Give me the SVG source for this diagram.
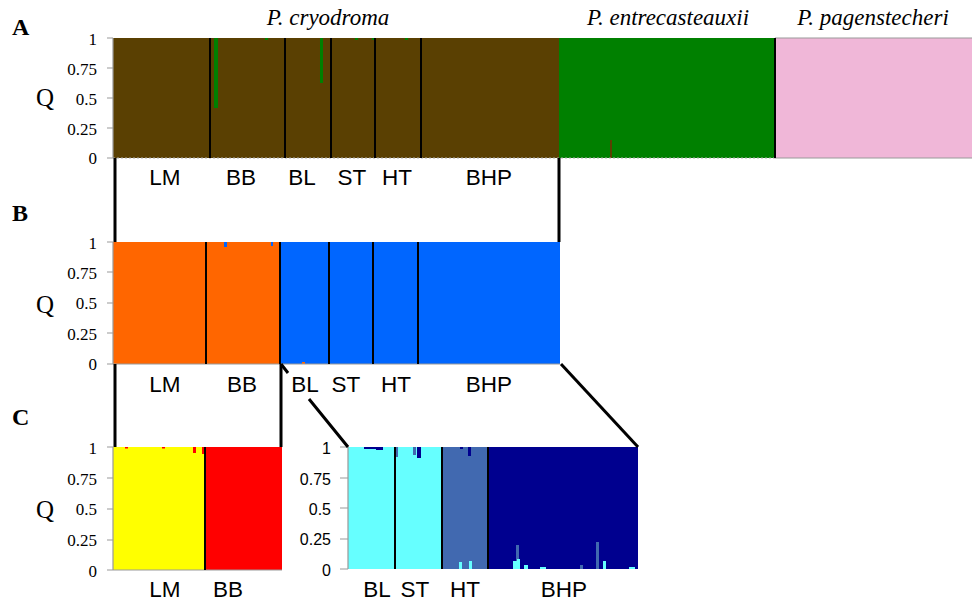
<svg xmlns="http://www.w3.org/2000/svg" width="972" height="602" viewBox="0 0 972 602">
<style>
.tk{font-family:"Liberation Serif",serif;font-size:17px;fill:#000;text-anchor:end}
.tks{font-family:"Liberation Sans",sans-serif;font-size:16px;fill:#000;text-anchor:end}
.q{font-family:"Liberation Serif",serif;font-size:25px;fill:#000;text-anchor:middle}
.pl{font-family:"Liberation Serif",serif;font-size:24px;font-weight:bold;fill:#000}
.sp{font-family:"Liberation Serif",serif;font-size:23px;font-style:italic;fill:#000;text-anchor:middle}
.lb{font-family:"Liberation Sans",sans-serif;font-size:22.5px;fill:#000;text-anchor:middle}
.ax{stroke:#999;stroke-width:1.2;fill:none}
.dv{stroke:#000;stroke-width:2;fill:none}
.cn{stroke:#000;stroke-width:3;fill:none}
</style>
<rect width="972" height="602" fill="#fff"/>

<g id="panelA">
<text class="pl" x="12" y="35">A</text>
<text class="sp" x="328" y="25">P. cryodroma</text>
<text class="sp" x="668" y="25">P. entrecasteauxii</text>
<text class="sp" x="873" y="25">P. pagenstecheri</text>
<rect x="113" y="38" width="446" height="120" fill="#5A4002"/>
<rect x="559" y="38" width="216" height="120" fill="#008000"/>
<rect x="775" y="38" width="197" height="120" fill="#F0B7D8"/>
<rect x="214" y="38" width="4" height="70" fill="#008000"/>
<rect x="320" y="38" width="3" height="45" fill="#008000"/>
<rect x="265" y="38" width="3" height="2" fill="#008000"/>
<rect x="355" y="38" width="3" height="2" fill="#008000"/>
<rect x="372" y="38" width="3" height="2" fill="#008000"/>
<rect x="405" y="38" width="3" height="2" fill="#008000"/>
<rect x="610" y="140" width="2" height="18" fill="#5A4002"/>
<line class="ax" x1="775" y1="38" x2="972" y2="38"/>
<line class="ax" x1="775" y1="158" x2="972" y2="158"/>
<line x1="113" y1="158" x2="775" y2="158" stroke="#aaa" stroke-width="1" stroke-dasharray="2,2"/>
<path class="ax" d="M113 38V158M107 38H113M107 68H113M107 98H113M107 128H113M107 158H113"/>
<path class="dv" d="M210 38V158M285 38V158M331 38V158M375 38V158M421 38V158M775 38V158"/>
<text class="tk" x="97" y="45">1</text>
<text class="tk" x="97" y="75">0.75</text>
<text class="tk" x="97" y="105">0.5</text>
<text class="tk" x="97" y="135">0.25</text>
<text class="tk" x="97" y="164">0</text>
<text class="q" x="45" y="106">Q</text>
<text class="lb" x="165" y="185">LM</text>
<text class="lb" x="241" y="185">BB</text>
<text class="lb" x="302" y="185">BL</text>
<text class="lb" x="352" y="185">ST</text>
<text class="lb" x="397" y="185">HT</text>
<text class="lb" x="489" y="185">BHP</text>
</g>

<g id="panelB">
<text class="pl" x="12" y="221">B</text>
<rect x="113" y="242" width="167" height="122" fill="#FF6600"/>
<rect x="280" y="242" width="280" height="122" fill="#0066FF"/>
<rect x="224" y="242" width="3" height="5" fill="#0066FF"/>
<rect x="271" y="242" width="2" height="4" fill="#0066FF"/>
<rect x="302" y="362" width="3" height="2" fill="#FF6600"/>
<path class="ax" d="M113 242V364M107 242H113M107 272H113M107 303H113M107 333H113M107 364H113M113 364H560"/>
<path class="dv" d="M206 242V364M280 242V364M329 242V364M373 242V364M418 242V364"/>
<text class="tk" x="97" y="249">1</text>
<text class="tk" x="97" y="279">0.75</text>
<text class="tk" x="97" y="309">0.5</text>
<text class="tk" x="97" y="340">0.25</text>
<text class="tk" x="97" y="370">0</text>
<text class="q" x="45" y="313">Q</text>
<text class="lb" x="165" y="392">LM</text>
<text class="lb" x="242" y="392">BB</text>
<text class="lb" x="305" y="392">BL</text>
<text class="lb" x="346" y="392">ST</text>
<text class="lb" x="396" y="392">HT</text>
<text class="lb" x="489" y="392">BHP</text>
</g>

<g id="panelC1">
<text class="pl" x="12" y="425">C</text>
<rect x="113" y="447" width="92" height="123" fill="#FFFF00"/>
<rect x="205" y="447" width="77" height="123" fill="#FF0000"/>
<rect x="193" y="447" width="3" height="6" fill="#FF0000"/>
<rect x="202" y="447" width="2" height="7" fill="#FF0000"/>
<rect x="125" y="447" width="3" height="1.5" fill="#FF0000"/>
<rect x="162" y="447" width="3" height="1.5" fill="#FF0000"/>
<path class="ax" d="M113 447V570M107 447H113M107 478H113M107 509H113M107 540H113M107 570H113M113 570H282"/>
<path class="dv" d="M205 447V570"/>
<text class="tk" x="97" y="454">1</text>
<text class="tk" x="97" y="485">0.75</text>
<text class="tk" x="97" y="515">0.5</text>
<text class="tk" x="97" y="546">0.25</text>
<text class="tk" x="97" y="577">0</text>
<text class="q" x="45" y="518">Q</text>
<text class="lb" x="165" y="597">LM</text>
<text class="lb" x="228" y="597">BB</text>
</g>

<g id="panelC2">
<rect x="348" y="447" width="94" height="122" fill="#66FFFF"/>
<rect x="442" y="447" width="46" height="122" fill="#4169B0"/>
<rect x="488" y="447" width="150" height="122" fill="#00008F"/>
<rect x="364" y="447" width="12" height="2" fill="#00008F"/>
<rect x="376" y="447" width="7" height="3" fill="#00008F"/>
<rect x="396" y="447" width="2" height="10" fill="#4169B0"/>
<rect x="413" y="447" width="3" height="8" fill="#4169B0"/>
<rect x="417" y="447" width="4" height="11" fill="#00008F"/>
<rect x="468" y="447" width="3" height="9" fill="#00008F"/>
<rect x="460" y="447" width="3" height="2" fill="#00008F"/>
<rect x="459" y="562" width="3" height="7" fill="#66FFFF"/>
<rect x="469" y="561" width="3" height="8" fill="#66FFFF"/>
<rect x="516" y="545" width="3" height="24" fill="#4169B0"/>
<rect x="513" y="561" width="4" height="8" fill="#66FFFF"/>
<rect x="517" y="559" width="3" height="10" fill="#66FFFF"/>
<rect x="524" y="565" width="4" height="4" fill="#66FFFF"/>
<rect x="540" y="567" width="6" height="2" fill="#66FFFF"/>
<rect x="580" y="565" width="3" height="4" fill="#4169B0"/>
<rect x="596" y="542" width="3" height="27" fill="#4169B0"/>
<rect x="603" y="561" width="3" height="8" fill="#66FFFF"/>
<rect x="629" y="567" width="6" height="2" fill="#66FFFF"/>
<path class="ax" d="M348 447V569M340 447H348M340 478H348M340 508H348M340 539H348M340 569H348"/>
<path class="dv" d="M395 447V569M442 447V569M488 447V569"/>
<text class="tks" x="331" y="454">1</text>
<text class="tks" x="331" y="485">0.75</text>
<text class="tks" x="331" y="515">0.5</text>
<text class="tks" x="331" y="545">0.25</text>
<text class="tks" x="331" y="576">0</text>
<text class="lb" x="377" y="597">BL</text>
<text class="lb" x="415" y="597">ST</text>
<text class="lb" x="465" y="597">HT</text>
<text class="lb" x="564" y="597">BHP</text>
</g>

<g id="connectors">
<path class="cn" d="M115 158V242M559 158V242"/>
<path class="cn" d="M115 364V447M281 364V447"/>
<path class="cn" d="M281 364L288 373M309 399L348 447"/>
<path class="cn" d="M561 364L638 447"/>
</g>
</svg>
